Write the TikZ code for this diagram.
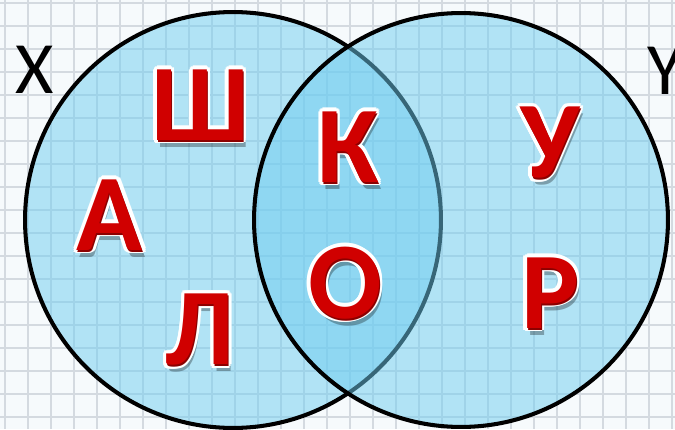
\documentclass[tikz,border=0pt]{standalone}
\usepackage{fontspec}
\setmainfont{Carlito}
\usetikzlibrary{calc}
\definecolor{gridbg}{RGB}{246,250,252}
\definecolor{gridln}{RGB}{212,218,224}
\definecolor{setfill}{RGB}{110,205,240}
\definecolor{lettred}{RGB}{208,0,0}
\definecolor{lettdark}{RGB}{140,0,0}

\begin{document}
\begin{tikzpicture}[x=0.02cm, y=-0.02cm,
  setc/.style={circle, draw=black, line width=2.3pt, fill=setfill, fill opacity=0.5, draw opacity=1},
  lab/.style={font=\fontsize{42}{42}\selectfont, inner sep=0pt},
  letter/.style={font=\fontsize{62}{62}\bfseries\selectfont, text=lettred, inner sep=0pt},
  rim/.style={letter, text=white},
  shade/.style={letter, text=black, text opacity=0.3},
  deep/.style={letter, text=lettdark}
]
\useasboundingbox (0,0) rectangle (675,429);
\fill[gridbg] (0,0) rectangle (675,429);
\foreach \gx in {5,28,...,675} \draw[gridln, line width=1.2pt] (\gx,0) -- (\gx,429);
\foreach \gy in {3,26,...,429} \draw[gridln, line width=1.2pt] (0,\gy) -- (675,\gy);

\node[setc, minimum size=8.32cm] (setx) at (233,220) {};
\node[setc, minimum size=8.28cm] (sety) at (461,220) {};

\foreach \nm/\ch/\px/\py in {sh/Ш/200/105, a/А/110/215, l/Л/200/330,
    k/К/348/147, o/О/345/283, u/У/550/143, r/Р/550/293} {
  \node[shade] at (\px+3,\py+7) {\ch};
  \foreach \a in {0,30,...,330} \node[rim] at ($(\px,\py)+(\a:3.5)$) {\ch};
  \node[deep] at (\px+1,\py+2) {\ch};
  \node[letter] (\nm) at (\px,\py) {\ch};
}

\node[lab] (xlab) at (35,70) {X};
\node[lab] (ylab) at (665,71) {Y};
\end{tikzpicture}
\end{document}
